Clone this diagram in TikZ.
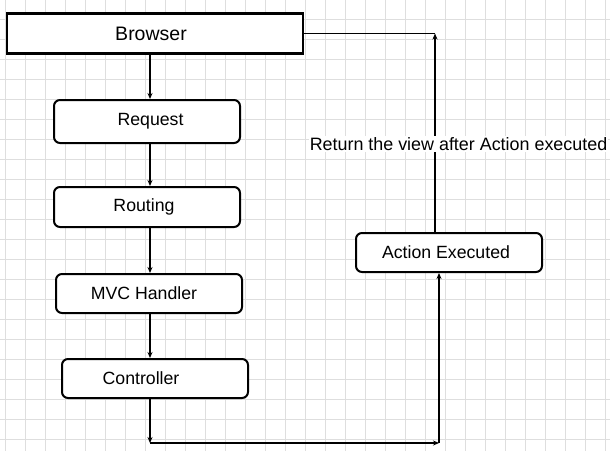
\documentclass[tikz,border=0pt]{standalone}
\usepackage{fontspec}
\setmainfont{Liberation Sans}
\usetikzlibrary{arrows.meta}
\begin{document}
\begin{tikzpicture}[x=1pt,y=-1pt,
  gridline/.style={draw=black!13,line width=0.8pt},
  stepbox/.style={draw=black,line width=2pt,rounded corners=6pt,fill=white,
    minimum width=186pt,minimum height=41pt,inner sep=0pt,
    font=\fontsize{17.7}{20}\selectfont},
  topbox/.style={draw=black,line width=2.5pt,fill=white,
    minimum width=296pt,minimum height=40pt,inner sep=0pt,
    font=\fontsize{19.5}{22}\selectfont},
  arr/.style={line width=1.6pt,-{Stealth[length=6pt,width=5pt]}},
  conn/.style={line width=1.6pt},
  lbl/.style={fill=white,inner sep=1pt,font=\fontsize{17.9}{20}\selectfont}]
\fill[white] (0,0) rectangle (610,451);
\useasboundingbox (0,0) rectangle (610,451);
\foreach \x in {5,25,...,605} \draw[gridline] (\x,0) -- (\x,451);
\foreach \y in {19,39,...,439} \draw[gridline] (0,\y) -- (610,\y);

\node[topbox] (browser) at (155,33.5) {Browser\hspace{8pt}\null};
\node[stepbox,minimum height=43pt] (request) at (147,121.5) {\hspace{7pt}Request};
\node[stepbox,minimum height=40pt] (routing) at (147,207) {Routing\hspace{6pt}\null};
\node[stepbox,minimum height=39pt] (mvc) at (149,293.5) {MVC Handler\hspace{10pt}\null};
\node[stepbox,minimum height=39pt] (controller) at (155,378.5) {Controller\hspace{28pt}\null};
\node[stepbox,minimum height=39pt] (action) at (449,252.5) {Action Executed\hspace{6pt}\null};

\coordinate (cx) at (150,0);
\coordinate (bl) at (150,443);
\coordinate (br) at (439,443);
\coordinate (tr) at (435,33.5);

\draw[arr] (browser.south -| cx) -- (request.north -| cx);
\draw[arr] (request.south -| cx) -- (routing.north -| cx);
\draw[arr] (routing.south -| cx) -- (mvc.north -| cx);
\draw[arr] (mvc.south -| cx) -- (controller.north -| cx);
\draw[arr] (controller.south -| cx) -- (bl);
\draw[arr] (bl) -- (br);
\draw[arr] (br) -- (action.south -| br);
\draw[arr] (action.north -| tr) -- (tr);
\draw[conn] (tr) -- (browser.east);

\node[lbl] (note) at (458.5,144) {Return the view after Action executed};
\end{tikzpicture}
\end{document}
